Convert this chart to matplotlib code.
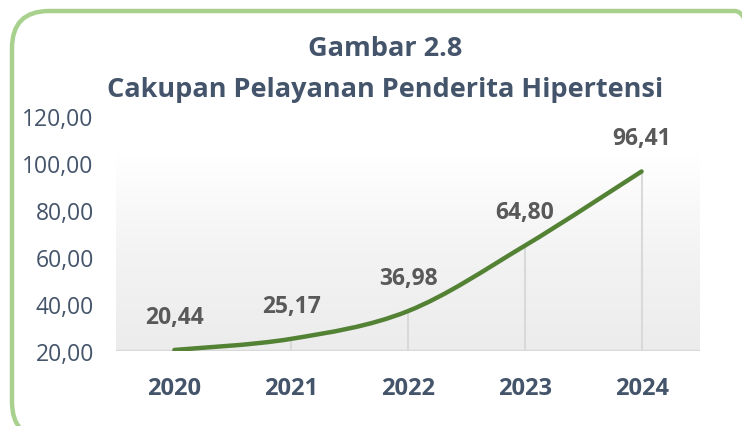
import numpy as np
import matplotlib.pyplot as plt
from matplotlib.colors import LinearSegmentedColormap
from matplotlib.patches import FancyBboxPatch, PathPatch
from matplotlib.path import Path

years = ['2020', '2021', '2022', '2023', '2024']
values = [20.44, 25.17, 36.98, 64.80, 96.41]
labels = ['20,44', '25,17', '36,98', '64,80', '96,41']
yticks = [20, 40, 60, 80, 100, 120]

W, H = 742, 427
fig = plt.figure(figsize=(W / 100, H / 100), dpi=100)
plt.rcParams['font.family'] = ['Open Sans', 'DejaVu Sans']

# rounded green frame (runs off right and bottom edges)
frame = FancyBboxPatch((12 / W, (H - 440) / H), 760 / W, 428 / H,
                       boxstyle='round,pad=0,rounding_size=0.05',
                       transform=fig.transFigure, fill=False,
                       edgecolor='#A9D18E', linewidth=3.2, mutation_aspect=W / H)
fig.patches.append(frame)

ax = fig.add_axes([116 / W, (H - 352) / H, (700 - 116) / W, (352 - 117) / H])
ax.set_xlim(-0.5, 4.5)
ax.set_ylim(20, 120)

# gradient back wall, grey at the bottom fading to white
grad = np.linspace(0, 1, 256).reshape(-1, 1)
cmap = LinearSegmentedColormap.from_list('g', ['#ececec', '#f3f3f3', '#ffffff'])
ax.imshow(grad, extent=(-0.5, 4.5, 20, 103), aspect='auto', origin='lower',
          cmap=cmap, zorder=0)

x = np.arange(len(years))
# drop lines
ax.vlines(x, 20, values, color='#d9d9d9', linewidth=1.5, zorder=1)
ax.axhline(20, color='#d9d9d9', linewidth=2.5, zorder=1)

# smoothed line (Excel style bezier)
pts = np.column_stack([x, values])
verts = [pts[0]]
codes = [Path.MOVETO]
n = len(pts)
for i in range(n - 1):
    p0 = pts[i - 1] if i > 0 else pts[i]
    p1 = pts[i]
    p2 = pts[i + 1]
    p3 = pts[i + 2] if i + 2 < n else pts[i + 1]
    c1 = p1 + (p2 - p0) / 6
    c2 = p2 - (p3 - p1) / 6
    verts += [c1, c2, p2]
    codes += [Path.CURVE4] * 3
ax.add_patch(PathPatch(Path(verts, codes), fill=False, edgecolor='#548235',
                       linewidth=3.2, capstyle='round', zorder=3))

for xi, v, lab in zip(x, values, labels):
    ax.annotate(lab, (xi, v), xytext=(0, 24), textcoords='offset points',
                ha='center', va='center', fontsize=16.5, fontweight='bold',
                color='#595959')

for s in ax.spines.values():
    s.set_visible(False)
ax.set_xticks(x)
ax.set_xticklabels(years, fontsize=17, fontweight='bold', color='#44546A')
ax.set_yticks(yticks)
ax.set_yticklabels(['%d,00' % t for t in yticks], fontsize=16.5, color='#44546A')
ax.tick_params(axis='both', length=0)
ax.tick_params(axis='y', pad=16)
ax.tick_params(axis='x', pad=18)

fig.text(385 / W, 1 - 49 / H, 'Gambar 2.8', ha='center', va='center',
         fontsize=19.5, fontweight='bold', color='#44546A')
fig.text(385 / W, 1 - 90 / H, 'Cakupan Pelayanan Penderita Hipertensi',
         ha='center', va='center', fontsize=19.5, fontweight='bold', color='#44546A')

fig.savefig('out.png', dpi=100)
